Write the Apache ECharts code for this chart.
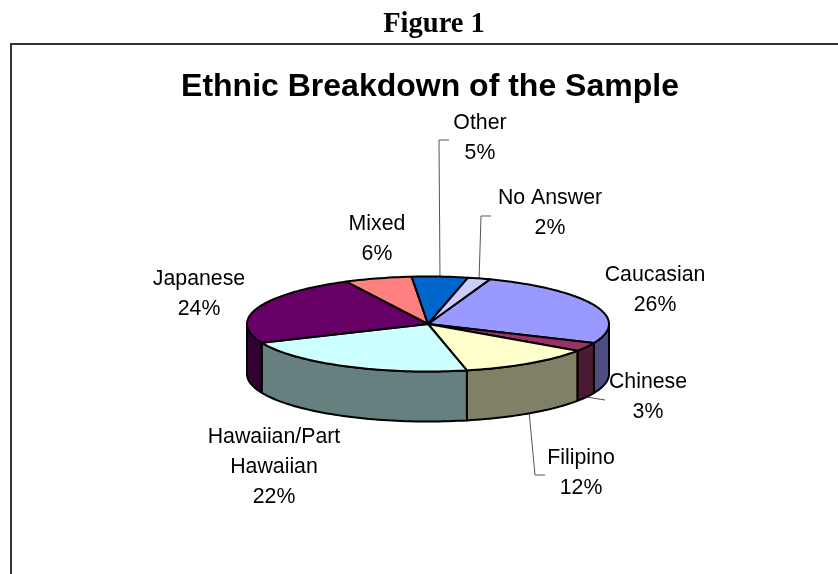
<!DOCTYPE html>
<html>
<head>
<meta charset="utf-8">
<style>html,body{margin:0;padding:0;background:#fff}#chart{width:838px;height:574px}</style>
<script src="https://cdn.jsdelivr.net/npm/echarts@6/dist/echarts.min.js"></script>
</head>
<body>
<div id="chart"></div>
<script>
// Sample composition, clockwise from the Caucasian slice
const categories = ['Caucasian', 'Chinese', 'Filipino', 'Hawaiian/Part\nHawaiian', 'Japanese', 'Mixed', 'Other', 'No Answer'];
const percentages = [26, 3, 12, 22, 24, 6, 5, 2];
const topColors = ['#9999ff', '#993366', '#ffffcc', '#ccffff', '#660066', '#ff8080', '#0066cc', '#ccccff'];
const wallColors = ['#4d4d80', '#4d1a33', '#808066', '#668080', '#330033', '#804040', '#003366', '#666680'];

// Tilted pie geometry
const PIE = { cx: 428, cy: 324, rx: 181, ry: 47.5, depth: 50, startDeg: 20 };
const total = percentages.reduce((a, b) => a + b, 0);

const spanOf = i => {
  let before = 0;
  for (let k = 0; k < i; k++) before += percentages[k];
  return [PIE.startDeg + before / total * 360, PIE.startDeg + (before + percentages[i]) / total * 360];
};
const rimPoint = (deg, drop) => {
  const r = deg * Math.PI / 180;
  return [PIE.cx + PIE.rx * Math.sin(r), PIE.cy - PIE.ry * Math.cos(r) + (drop || 0)];
};
const arc = (a, b, drop) => {
  const n = Math.max(2, Math.ceil(Math.abs(b - a) / 1.5));
  const pts = [];
  for (let k = 0; k <= n; k++) pts.push(rimPoint(a + (b - a) * k / n, drop));
  return pts;
};
const edge = { stroke: '#000', lineWidth: 2, lineJoin: 'round' };

// Label block centres, plus the elbow of the leader where a label has one
const labelLayout = [
  { x: 655, y: 290 },
  { x: 648, y: 397, leader: [[605, 400]], drop: true },
  { x: 581, y: 473, leader: [[535, 475], [545, 475]], drop: true },
  { x: 274, y: 467 },
  { x: 199, y: 294 },
  { x: 377, y: 239 },
  { x: 480, y: 138, leader: [[439, 140], [449, 140]] },
  { x: 550, y: 213, leader: [[481, 216], [491, 216]] }
];

const seriesData = categories.map((name, i) => ({ name, value: percentages[i] }));

function renderWall(params) {
  const i = params.dataIndex;
  const [a, b] = spanOf(i);
  // Only the near half of the rim shows its side wall
  const from = Math.max(a, 90), to = Math.min(b, 270);
  if (to <= from) return { type: 'group', children: [] };
  const points = arc(from, to, 0).concat(arc(to, from, PIE.depth));
  return { type: 'polygon', shape: { points }, style: { fill: wallColors[i], ...edge } };
}

function renderTop(params) {
  const i = params.dataIndex;
  const [a, b] = spanOf(i);
  const points = [[PIE.cx, PIE.cy]].concat(arc(a, b, 0));
  return { type: 'polygon', shape: { points }, style: { fill: topColors[i], ...edge } };
}

function renderLabel(params) {
  const i = params.dataIndex;
  const [a, b] = spanOf(i);
  const spot = labelLayout[i];
  const children = [{
    type: 'text',
    style: {
      x: spot.x, y: spot.y,
      text: categories[i] + '\n' + percentages[i] + '%',
      fontFamily: '"Liberation Sans", Arial, sans-serif',
      fontSize: 21.3, lineHeight: 30, fill: '#000',
      align: 'center', verticalAlign: 'middle'
    }
  }];
  if (spot.leader) {
    const start = rimPoint((a + b) / 2, spot.drop ? PIE.depth : 0);
    children.push({
      type: 'polyline',
      shape: { points: [start].concat(spot.leader) },
      style: { fill: 'none', stroke: '#555', lineWidth: 1 }
    });
  }
  return { type: 'group', children };
}

const layer = (renderItem, z) => ({
  type: 'custom', coordinateSystem: 'none', silent: true, animation: false, z,
  data: seriesData, renderItem
});

const chart = echarts.init(document.getElementById('chart'), null, { renderer: 'canvas' });
chart.setOption({
  animation: false,
  backgroundColor: '#fff',
  title: [
    {
      text: 'Figure 1', left: 429, top: 5, textAlign: 'center',
      textStyle: { fontFamily: '"Liberation Serif", "Times New Roman", serif', fontWeight: 'bold', fontSize: 28.5, color: '#000' }
    },
    {
      text: 'Ethnic Breakdown of the Sample', left: 425, top: 66, textAlign: 'center',
      textStyle: { fontFamily: '"Liberation Sans", Arial, sans-serif', fontWeight: 'bold', fontSize: 32, color: '#000' }
    }
  ],
  graphic: [{
    type: 'polyline', silent: true,
    shape: { points: [[11, 574], [11, 44], [838, 44]] },
    style: { fill: 'none', stroke: '#333', lineWidth: 2 }
  }],
  series: [layer(renderLabel, 1), layer(renderWall, 2), layer(renderTop, 3)]
});
</script>
</body>
</html>
